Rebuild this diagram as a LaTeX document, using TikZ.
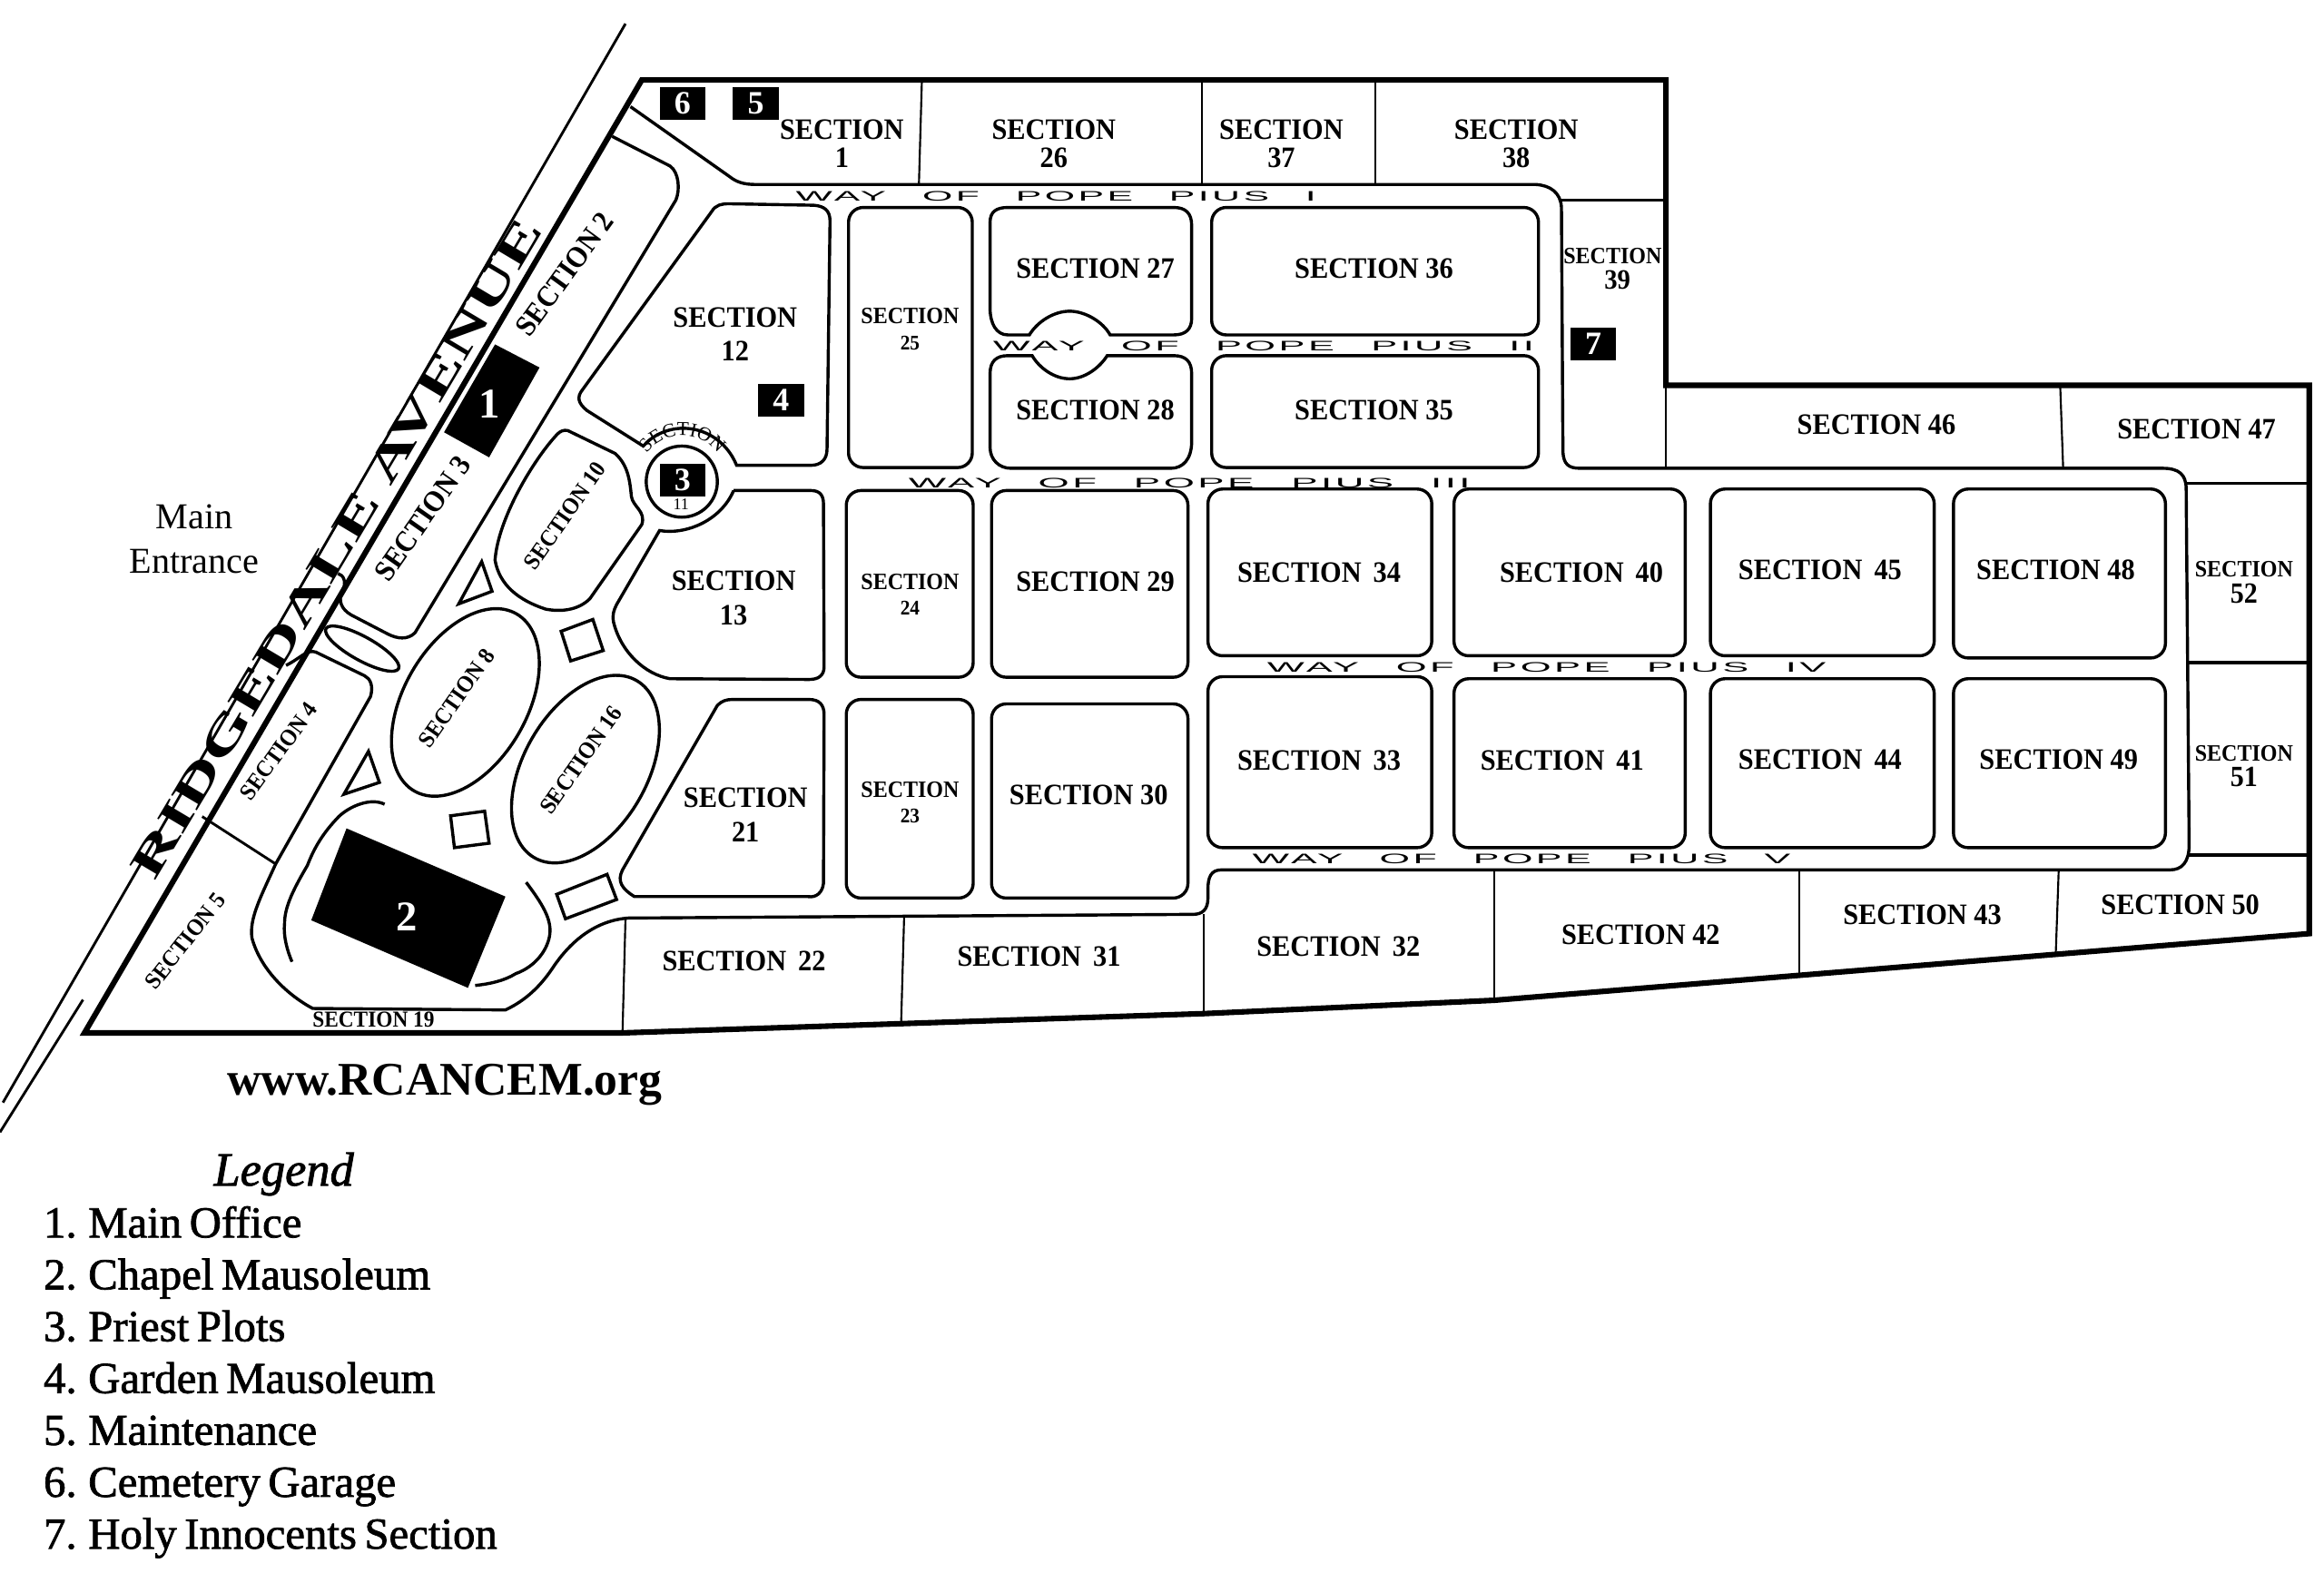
\documentclass[tikz,border=0pt]{standalone}
\usepackage{fontspec}
\usepackage{graphicx}
\usetikzlibrary{decorations.text}
\setmainfont{Liberation Serif}
\newfontfamily\secfont[FakeStretch=0.93]{Liberation Serif}
\newfontfamily\avefont[FakeStretch=1.6]{Liberation Serif}
\newfontfamily\wayfont[LetterSpace=8,WordSpace=2.6]{Liberation Sans}
\newfontfamily\legfont[FakeBold=1.5,WordSpace=0.7]{Liberation Serif}
\newlength{\picunit}
\setlength{\picunit}{0.16mm}
\newcommand{\waytext}[2]{\resizebox{#1\picunit}{6.5\picunit}{\wayfont #2}}

\begin{document}
\begin{tikzpicture}[
        x=\picunit,
        y=-\picunit,
        % Line styles
        boundary/.style={draw=black, line width=1.7pt, miter limit=10},
        road/.style={draw=black, line width=0.95pt},
        plotbox/.style={draw=black, line width=0.95pt, rounded corners=4.5pt},
        divider/.style={draw=black, line width=0.6pt},
        avenueline/.style={draw=black, line width=0.8pt},
        % Text styles
        secbig/.style={align=center, inner sep=0pt, font=\secfont\bfseries\fontsize{9.1}{10.5}\selectfont},
        sectop/.style={align=center, inner sep=0pt, font=\secfont\bfseries\fontsize{9.1}{8.7}\selectfont},
        secsmall/.style={align=center, inner sep=0pt, font=\secfont\bfseries\fontsize{7.2}{7.9}\selectfont},
        secslant/.style={inner sep=0pt, font=\secfont\bfseries\fontsize{7.2}{8}\selectfont},
        wayname/.style={inner sep=0pt},
        marker/.style={fill=black, text=white, inner sep=0pt, minimum width=31\picunit, minimum height=22\picunit, font=\bfseries\fontsize{10}{10}\selectfont},
        legendline/.style={anchor=base west, inner sep=0pt, font=\legfont\fontsize{13.6}{14}\selectfont}
    ]
        \useasboundingbox (0,0) rectangle (1568,1061);

        % Avenue edges
        \draw[avenueline] (422,16) -- (2,744);
        \draw[avenueline] (56,674.6) -- (0,764);

        % Cemetery boundary
        \draw[boundary] (57,697) -- (433,54) -- (1124,54) -- (1124,260) -- (1558,260) -- (1558,630) -- (1008,675) -- (812,684) -- (420,697) -- cycle;

        % Dividers along the boundary
        \draw[divider] (622,54) -- (620,124);
        \draw[divider] (811,54) -- (811,124);
        \draw[divider] (928,54) -- (928,124);
        \draw[divider, line width=0.95pt] (1053,135) -- (1124,135);
        \draw[divider] (1124,260) -- (1124,316);
        \draw[divider] (1390,260) -- (1392,316);
        \draw[divider, line width=0.95pt] (1475,326) -- (1558,326);
        \draw[divider, line width=0.95pt] (1475,447) -- (1558,447);
        \draw[divider, line width=0.95pt] (1477,577) -- (1558,577);
        \draw[divider] (1389,587) -- (1387,644);
        \draw[divider] (1214,587) -- (1214,658);
        \draw[divider] (1008,587) -- (1008,675);
        \draw[divider] (812,617) -- (812,684);
        \draw[divider] (610,619) -- (608,690);
        \draw[divider] (422,620) -- (420,697);
        \draw[divider, line width=0.8pt] (136.4,551) -- (186,583);

        % Outer road edge
        \draw[road] (425.4,72) -- (492,119) .. controls (497,123) and (502,124.5) .. (510,124.5) -- (1036,124.5)
            .. controls (1046,125) and (1053,130) .. (1053.5,140) -- (1054.5,305)
            .. controls (1055,313) and (1058,316) .. (1066,316) -- (1459,316)
            .. controls (1470,316) and (1475,320) .. (1475,330) -- (1477,570)
            .. controls (1477,582) and (1472,587) .. (1464,587) -- (824,587)
            .. controls (817,587) and (815,592) .. (815,600) -- (815,606)
            .. controls (815,614) and (811,617) .. (805,617) -- (424,619.5)
            .. controls (402,621) and (385,635) .. (373,653)
            .. controls (365,665) and (355,675) .. (341,681.5) -- (211,680.5)
            .. controls (195,672) and (176,655) .. (170,633)
            .. controls (168,620) and (176,605) .. (186,583) -- (250,470)
            .. controls (252,463) and (250,458) .. (246,456) -- (213,440)
            .. controls (207,438) and (203,444) .. (193,449);

        % Sections 2 and 3
        \draw[road] (413,92) -- (452,112) .. controls (458,116) and (459,128) .. (456,135) -- (280,427)
            .. controls (275,432) and (268,431) .. (262,428) -- (237,415)
            .. controls (230,411) and (228,405) .. (231,399) .. controls (234,393) and (232,388) .. (228,387);

        % Sections next to the roundabout
        \draw[road] (480,143) .. controls (483,138) and (487,137.5) .. (492,137.5) -- (549,138.5)
            .. controls (556,139) and (560,142) .. (560,149) -- (558,303)
            .. controls (558,310) and (554,314) .. (547,314) -- (497,314)
            .. controls (490,297) and (475,289) .. (461,289) .. controls (450,289) and (440,294) .. (434,301)
            -- (396,277) .. controls (390,272) and (389,268) .. (393,263) -- cycle;
        \draw[road] (495,331) -- (547,331) .. controls (553,331) and (555.6,334) .. (555.6,340) -- (556,450)
            .. controls (556,456) and (552,458.5) .. (546,458.5) -- (452,458)
            .. controls (435,455) and (419,440) .. (414,420) .. controls (413,415) and (414,412) .. (416,408)
            -- (445,358) .. controls (462,361) and (486,352) .. (495,331);
        \draw[road] (484,476) .. controls (487,473) and (490,472) .. (494,472) -- (546,472)
            .. controls (553,472) and (556,476) .. (556,482) -- (555.6,596)
            .. controls (555,602) and (551,606) .. (545,605) -- (428,605)
            .. controls (420,600) and (416,595) .. (420,587) -- cycle;
        \draw[road] (383,290.5) -- (415,306) .. controls (424,314) and (425,325) .. (426,335)
            .. controls (427,342) and (436,345) .. (433,354) -- (398,404)
            .. controls (390,412) and (378,413) .. (368,411) .. controls (350,405) and (337,395) .. (334,378)
            .. controls (336,350) and (360,310) .. (376,293) .. controls (378,291) and (380,290) .. (383,290.5) -- cycle;
        \draw[road] (460,325) circle (24);

        % Ovals
        \draw[road, rotate around={60:(314,474)}] (314,474) ellipse [x radius=69, y radius=41.6];
        \draw[road, rotate around={60:(395,519)}] (395,519) ellipse [x radius=69, y radius=41.6];
        \draw[road, rotate around={-29:(244.4,437.7)}] (244.4,437.7) ellipse [x radius=28, y radius=8];

        % Small squares and triangles
        \draw[road] (325,379) -- (332,399) -- (309.5,407.5) -- cycle;
        \draw[road] (248.6,507) -- (256,528) -- (232,536) -- cycle;
        \draw[road] (378.6,426) -- (400,418) -- (407,439) -- (385,446) -- cycle;
        \draw[road] (304,550.5) -- (327,547.4) -- (330,569) -- (306.6,572) -- cycle;
        \draw[road] (375.6,603.5) -- (409.6,590) -- (416,607) -- (381.5,620) -- cycle;

        % Drive around the chapel
        \draw[road] (259.5,542.7) .. controls (250,538) and (236,544) .. (228.6,551) .. controls (218,562) and (212,572) .. (207.4,584)
            .. controls (198,600) and (192,612) .. (192,623) .. controls (191,632) and (194,642) .. (197,649);
        \draw[road] (355,595.4) .. controls (366,610) and (372,620) .. (371,630) .. controls (370,640) and (362,652) .. (348,657)
            .. controls (340,662) and (330,664) .. (320.6,665);

        % Plots in the grid
        \draw[plotbox] (572.5,140) rectangle (656,315.5);
        \draw[plotbox] (817.5,140) rectangle (1038,226);
        \draw[plotbox] (817.5,240) rectangle (1038,315.5);
        \draw[road] (668,150) .. controls (668,143) and (672,140) .. (680,140) -- (792,140) .. controls (800,140) and (804,144) .. (804,152)
            -- (804,215) .. controls (804,222) and (800,226) .. (792,226) -- (749,226)
            .. controls (744,217) and (732,210) .. (721.7,210) .. controls (711,210) and (700,217) .. (694.5,226)
            -- (680,226) .. controls (672,226) and (668,218) .. (668,208) -- cycle;
        \draw[road] (668,252) .. controls (668,244) and (672,240) .. (680,240) -- (696.4,240)
            .. controls (701,248) and (711,255.6) .. (721.7,255.6) .. controls (732,255.6) and (742,248) .. (747,240)
            -- (792,240) .. controls (800,240) and (804,244) .. (804,252) -- (804,298)
            .. controls (804,310) and (798,316) .. (790,316) -- (682,316) .. controls (674,316) and (668,310) .. (668,302) -- cycle;
        \draw[plotbox] (571,331) rectangle (656.6,457);
        \draw[plotbox] (669,331) rectangle (801.5,457);
        \draw[plotbox] (571,472) rectangle (656.6,606);
        \draw[plotbox] (669,475) rectangle (801.5,606);
        \draw[plotbox] (815,330) rectangle (966,442.5);
        \draw[plotbox] (981,330) rectangle (1137,442.5);
        \draw[plotbox] (1154,330) rectangle (1305,442.5);
        \draw[plotbox] (1318,330) rectangle (1461,444);
        \draw[plotbox] (815,456.6) rectangle (966,572);
        \draw[plotbox] (981,458) rectangle (1137,572);
        \draw[plotbox] (1154,458) rectangle (1305,572);
        \draw[plotbox] (1318,458) rectangle (1461,572);

        % Buildings
        \fill[black] (334,232.4) -- (364,248) -- (330,308.6) -- (299.6,291.7) -- cycle;
        \fill[black] (233.8,559) -- (341,605) -- (315.7,666.6) -- (210,621) -- cycle;
        \node[text=white, font=\bfseries\fontsize{13}{13}\selectfont] (office) at (330.5,272.5) {1};
        \node[text=white, font=\bfseries\fontsize{13}{13}\selectfont] (chapel) at (274.5,618.5) {2};

        % Numbered markers
        \node[marker] (mark3) at (460.5,324) {3};
        \node[marker] (mark4) at (527,270) {4};
        \node[marker] (mark5) at (510,70) {5};
        \node[marker] (mark6) at (460.5,70) {6};
        \node[marker] (mark7) at (1075,232) {7};

        % Section labels
        \node[sectop] (sec1) at (568,97) {SECTION\\1};
        \node[sectop] (sec26) at (711,97) {SECTION\\26};
        \node[sectop] (sec37) at (864.5,97) {SECTION\\37};
        \node[sectop] (sec38) at (1023,97) {SECTION\\38};
        \node[secsmall] (sec39) at (1088,181.5) {SECTION\\{\fontsize{8.6}{8}\selectfont\hspace*{3pt}39}};
        \node[secbig] (sec12) at (496,225.5) {SECTION\\12};
        \node[secbig] (sec13) at (495,403.5) {SECTION\\13};
        \node[secbig] (sec21) at (503,550) {SECTION\\21};
        \node[secsmall] (sec25) at (614,222) {SECTION\\{\fontsize{6.4}{8}\selectfont 25}};
        \node[secsmall] (sec24) at (614,401) {SECTION\\{\fontsize{6.4}{8}\selectfont 24}};
        \node[secsmall] (sec23) at (614,541.5) {SECTION\\{\fontsize{6.4}{8}\selectfont 23}};
        \node[secbig] (sec27) at (739,181.5) {SECTION 27};
        \node[secbig] (sec28) at (739,276.5) {SECTION 28};
        \node[secbig] (sec36) at (927,181.5) {SECTION 36};
        \node[secbig] (sec35) at (927,276.5) {SECTION 35};
        \node[secbig] (sec29) at (739,392.5) {SECTION 29};
        \node[secbig] (sec30) at (734.5,536.5) {SECTION 30};
        \node[secbig] (sec34) at (890,386.5) {SECTION\, 34};
        \node[secbig] (sec40) at (1067,386.5) {SECTION\, 40};
        \node[secbig] (sec45) at (1228,384.5) {SECTION\, 45};
        \node[secbig] (sec48) at (1387,384.5) {SECTION 48};
        \node[secbig] (sec33) at (890,513) {SECTION\, 33};
        \node[secbig] (sec41) at (1054,513) {SECTION\, 41};
        \node[secbig] (sec44) at (1228,512.5) {SECTION\, 44};
        \node[secbig] (sec49) at (1389,512.5) {SECTION 49};
        \node[secbig] (sec46) at (1266,286.5) {SECTION 46};
        \node[secbig] (sec47) at (1482,289.5) {SECTION 47};
        \node[secsmall] (sec52) at (1514,393) {SECTION\\{\fontsize{9}{8}\selectfont 52}};
        \node[secsmall] (sec51) at (1514,517) {SECTION\\{\fontsize{9}{8}\selectfont 51}};
        \node[secbig] (sec22) at (502,648.5) {SECTION\, 22};
        \node[secbig] (sec31) at (701,645.5) {SECTION\, 31};
        \node[secbig] (sec32) at (903,638.5) {SECTION\, 32};
        \node[secbig] (sec42) at (1107,630.5) {SECTION 42};
        \node[secbig] (sec43) at (1297,617.5) {SECTION 43};
        \node[secbig] (sec50) at (1471,610.5) {SECTION 50};
        \node[secslant, font=\secfont\bfseries\fontsize{7}{8}\selectfont] (sec19) at (252,688) {SECTION 19};

        % Slanted section labels
        \node[secbig, rotate=54] (sec2) at (381,185) {SECTION 2};
        \node[secbig, rotate=55] (sec3) at (285,350) {SECTION 3};
        \node[secslant, rotate=55] (sec10) at (381,348) {SECTION 10};
        \node[secslant, rotate=55] (sec8) at (308,471) {SECTION 8};
        \node[secslant, rotate=55] (sec16) at (392,513) {SECTION 16};
        \node[secslant, rotate=54] (sec4) at (188,507) {SECTION 4};
        \node[secslant, rotate=52] (sec5) at (125,635) {SECTION 5};

        % Section 11 around the roundabout
        \path[decorate, decoration={text along path, text align=center, text={|\fontsize{6}{6}\selectfont|SECTION}}]
            (433,312) .. controls (443,288) and (477,288) .. (488,312);
        \node[inner sep=0pt, font=\fontsize{5}{5}\selectfont] (sec11) at (459.5,340) {11};

        % Road names
        \node[wayname] (way1) at (712.5,132.5) {\waytext{351}{WAY OF POPE PIUS I}};
        \node[wayname] (way2) at (852.5,233.5) {\waytext{365}{WAY OF POPE PIUS II}};
        \node[wayname] (way3) at (802.5,326) {\waytext{379}{WAY OF POPE PIUS III}};
        \node[wayname] (way4) at (1043.5,450.5) {\waytext{377}{WAY OF POPE PIUS IV}};
        \node[wayname] (way5) at (1026.5,579.5) {\waytext{363}{WAY OF POPE PIUS V}};

        % Avenue, entrance and web address
        \node[rotate=59.2, inner sep=0pt, font=\avefont\bfseries\fontsize{14}{14}\selectfont] (avenue) at (227,370) {RIDGEDALE AVENUE};
        \node[align=center, inner sep=0pt, font=\fontsize{11.2}{13.7}\selectfont] (entrance) at (131,364) {Main\\Entrance};
        \node[anchor=base west, inner sep=0pt, font=\bfseries\fontsize{14.4}{14.4}\selectfont] (website) at (153,739) {www.RCANCEM.org};

        % Legend
        \node[anchor=base, inner sep=0pt, font=\legfont\itshape\fontsize{14.6}{15}\selectfont] (legend) at (191.5,800) {Legend};
        \node[legendline] (item1) at (29,835) {1. Main Office};
        \node[legendline] (item2) at (29,870) {2. Chapel Mausoleum};
        \node[legendline] (item3) at (29,905) {3. Priest Plots};
        \node[legendline] (item4) at (29,940) {4. Garden Mausoleum};
        \node[legendline] (item5) at (29,975) {5. Maintenance};
        \node[legendline] (item6) at (29,1010) {6. Cemetery Garage};
        \node[legendline] (item7) at (29,1045) {7. Holy Innocents Section};
    \end{tikzpicture}
\end{document}
